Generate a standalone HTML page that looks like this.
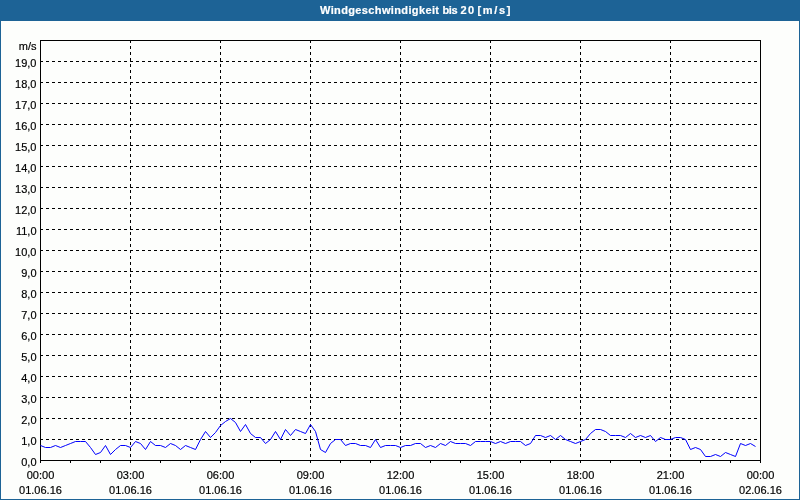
<!DOCTYPE html>
<html lang="de"><head><meta charset="utf-8"><title>Windgeschwindigkeit bis 20 [m/s]</title>
<style>
html,body{margin:0;padding:0;background:#fdfefc;}
body{width:800px;height:500px;overflow:hidden;}
svg{display:block;}
text{font-family:"Liberation Sans",sans-serif;font-size:11px;fill:#000;stroke:#000;stroke-width:0.18px;}
.t{font-weight:bold;fill:#fff;stroke:#fff;stroke-width:0.2px;}
.g line{stroke:#000;stroke-width:1;stroke-dasharray:3 3;shape-rendering:crispEdges;}
.k line{stroke:#000;stroke-width:1;shape-rendering:crispEdges;}
.y text{text-anchor:end;}
.x text{text-anchor:middle;}
</style></head><body>
<svg width="800" height="500" viewBox="0 0 800 500">
<rect x="0" y="0" width="800" height="500" fill="#1d6396"/>
<rect x="1" y="21" width="798" height="478" fill="#fdfefc"/>
<text class="t" y="14"><tspan x="320" textLength="119">Windgeschwindigkeit</tspan> <tspan x="442.5" textLength="15">bis</tspan> <tspan x="460.5" textLength="13.5">20</tspan> <tspan x="477.5" textLength="33">[m/s]</tspan></text>
<g class="g">
<line x1="40" y1="61.5" x2="760" y2="61.5"/>
<line x1="40" y1="82.5" x2="760" y2="82.5"/>
<line x1="40" y1="103.5" x2="760" y2="103.5"/>
<line x1="40" y1="124.5" x2="760" y2="124.5"/>
<line x1="40" y1="145.5" x2="760" y2="145.5"/>
<line x1="40" y1="166.5" x2="760" y2="166.5"/>
<line x1="40" y1="187.5" x2="760" y2="187.5"/>
<line x1="40" y1="208.5" x2="760" y2="208.5"/>
<line x1="40" y1="229.5" x2="760" y2="229.5"/>
<line x1="40" y1="250.5" x2="760" y2="250.5"/>
<line x1="40" y1="271.5" x2="760" y2="271.5"/>
<line x1="40" y1="292.5" x2="760" y2="292.5"/>
<line x1="40" y1="313.5" x2="760" y2="313.5"/>
<line x1="40" y1="334.5" x2="760" y2="334.5"/>
<line x1="40" y1="355.5" x2="760" y2="355.5"/>
<line x1="40" y1="376.5" x2="760" y2="376.5"/>
<line x1="40" y1="397.5" x2="760" y2="397.5"/>
<line x1="40" y1="418.5" x2="760" y2="418.5"/>
<line x1="40" y1="439.5" x2="760" y2="439.5"/>
<line x1="130.5" y1="40" x2="130.5" y2="460"/>
<line x1="220.5" y1="40" x2="220.5" y2="460"/>
<line x1="310.5" y1="40" x2="310.5" y2="460"/>
<line x1="400.5" y1="40" x2="400.5" y2="460"/>
<line x1="490.5" y1="40" x2="490.5" y2="460"/>
<line x1="580.5" y1="40" x2="580.5" y2="460"/>
<line x1="670.5" y1="40" x2="670.5" y2="460"/>
</g>
<rect x="40.5" y="40.5" width="720" height="420" fill="none" stroke="#000" stroke-width="1" shape-rendering="crispEdges"/>
<g class="k">
<line x1="40.5" y1="461" x2="40.5" y2="463"/>
<line x1="70.5" y1="461" x2="70.5" y2="463"/>
<line x1="100.5" y1="461" x2="100.5" y2="463"/>
<line x1="130.5" y1="461" x2="130.5" y2="463"/>
<line x1="160.5" y1="461" x2="160.5" y2="463"/>
<line x1="190.5" y1="461" x2="190.5" y2="463"/>
<line x1="220.5" y1="461" x2="220.5" y2="463"/>
<line x1="250.5" y1="461" x2="250.5" y2="463"/>
<line x1="280.5" y1="461" x2="280.5" y2="463"/>
<line x1="310.5" y1="461" x2="310.5" y2="463"/>
<line x1="340.5" y1="461" x2="340.5" y2="463"/>
<line x1="370.5" y1="461" x2="370.5" y2="463"/>
<line x1="400.5" y1="461" x2="400.5" y2="463"/>
<line x1="430.5" y1="461" x2="430.5" y2="463"/>
<line x1="460.5" y1="461" x2="460.5" y2="463"/>
<line x1="490.5" y1="461" x2="490.5" y2="463"/>
<line x1="520.5" y1="461" x2="520.5" y2="463"/>
<line x1="550.5" y1="461" x2="550.5" y2="463"/>
<line x1="580.5" y1="461" x2="580.5" y2="463"/>
<line x1="610.5" y1="461" x2="610.5" y2="463"/>
<line x1="640.5" y1="461" x2="640.5" y2="463"/>
<line x1="670.5" y1="461" x2="670.5" y2="463"/>
<line x1="700.5" y1="461" x2="700.5" y2="463"/>
<line x1="730.5" y1="461" x2="730.5" y2="463"/>
<line x1="760.5" y1="461" x2="760.5" y2="463"/>
</g>
<polyline fill="none" stroke="#0000ff" stroke-width="1" stroke-linejoin="round" points="40.5,445.5 45.5,447.5 50.5,447.5 55.5,445.5 60.5,447.5 65.5,445.5 70.5,443.5 75.5,441.5 80.5,441.5 85.5,441.5 90.5,447.5 95.5,454.5 100.5,452.5 105.5,445.5 110.5,454.5 115.5,449.5 120.5,445.5 125.5,445.5 130.5,447.5 135.5,441.5 140.5,443.5 145.5,449.5 150.5,441.5 155.5,445.5 160.5,445.5 165.5,447.5 170.5,443.5 175.5,445.5 180.5,449.5 185.5,445.5 190.5,447.5 195.5,449.5 200.5,439.5 205.5,431.5 210.5,437.5 215.5,432.5 220.5,425.5 225.5,421.5 230.5,418.5 235.5,422.5 240.5,431.5 245.5,424.5 250.5,433.5 255.5,437.5 260.5,437.5 265.5,443.5 270.5,439.5 275.5,431.5 280.5,439.5 285.5,429.5 290.5,435.5 295.5,429.5 300.5,431.5 305.5,433.5 310.5,424.5 315.5,431.5 320.5,449.5 325.5,452.5 330.5,443.5 335.5,439.5 340.5,439.5 345.5,445.5 350.5,443.5 355.5,443.5 360.5,445.5 365.5,445.5 370.5,447.5 375.5,439.5 380.5,447.5 385.5,445.5 390.5,445.5 395.5,445.5 400.5,447.5 405.5,445.5 410.5,445.5 415.5,443.5 420.5,443.5 425.5,447.5 430.5,445.5 435.5,447.5 440.5,443.5 445.5,445.5 450.5,441.5 455.5,443.5 460.5,443.5 465.5,443.5 470.5,445.5 475.5,441.5 480.5,441.5 485.5,441.5 490.5,441.5 495.5,443.5 500.5,441.5 505.5,443.5 510.5,441.5 515.5,441.5 520.5,441.5 525.5,445.5 530.5,443.5 535.5,435.5 540.5,435.5 545.5,437.5 550.5,435.5 555.5,439.5 560.5,435.5 565.5,439.5 570.5,441.5 575.5,443.5 580.5,441.5 585.5,439.5 590.5,433.5 595.5,429.5 600.5,429.5 605.5,431.5 610.5,435.5 615.5,435.5 620.5,435.5 625.5,437.5 630.5,433.5 635.5,437.5 640.5,435.5 645.5,437.5 650.5,435.5 655.5,441.5 660.5,437.5 665.5,439.5 670.5,439.5 675.5,437.5 680.5,437.5 685.5,439.5 690.5,449.5 695.5,447.5 700.5,449.5 705.5,456.5 710.5,456.5 715.5,454.5 720.5,456.5 725.5,452.5 730.5,454.5 735.5,456.5 740.5,443.5 745.5,445.5 750.5,443.5 755.5,446.5"/>
<g class="y">
<text x="36.5" y="50">m/s</text>
<text x="36.5" y="67">19,0</text>
<text x="36.5" y="88">18,0</text>
<text x="36.5" y="109">17,0</text>
<text x="36.5" y="130">16,0</text>
<text x="36.5" y="151">15,0</text>
<text x="36.5" y="172">14,0</text>
<text x="36.5" y="193">13,0</text>
<text x="36.5" y="214">12,0</text>
<text x="36.5" y="235">11,0</text>
<text x="36.5" y="256">10,0</text>
<text x="36.5" y="277">9,0</text>
<text x="36.5" y="298">8,0</text>
<text x="36.5" y="319">7,0</text>
<text x="36.5" y="340">6,0</text>
<text x="36.5" y="361">5,0</text>
<text x="36.5" y="382">4,0</text>
<text x="36.5" y="403">3,0</text>
<text x="36.5" y="424">2,0</text>
<text x="36.5" y="445">1,0</text>
<text x="36.5" y="466">0,0</text>
</g>
<g class="x">
<text x="40.5" y="479">00:00</text>
<text x="40.5" y="494">01.06.16</text>
<text x="130.5" y="479">03:00</text>
<text x="130.5" y="494">01.06.16</text>
<text x="220.5" y="479">06:00</text>
<text x="220.5" y="494">01.06.16</text>
<text x="310.5" y="479">09:00</text>
<text x="310.5" y="494">01.06.16</text>
<text x="400.5" y="479">12:00</text>
<text x="400.5" y="494">01.06.16</text>
<text x="490.5" y="479">15:00</text>
<text x="490.5" y="494">01.06.16</text>
<text x="580.5" y="479">18:00</text>
<text x="580.5" y="494">01.06.16</text>
<text x="670.5" y="479">21:00</text>
<text x="670.5" y="494">01.06.16</text>
<text x="760.5" y="479">00:00</text>
<text x="760.5" y="494">02.06.16</text>
</g>
</svg></body></html>
